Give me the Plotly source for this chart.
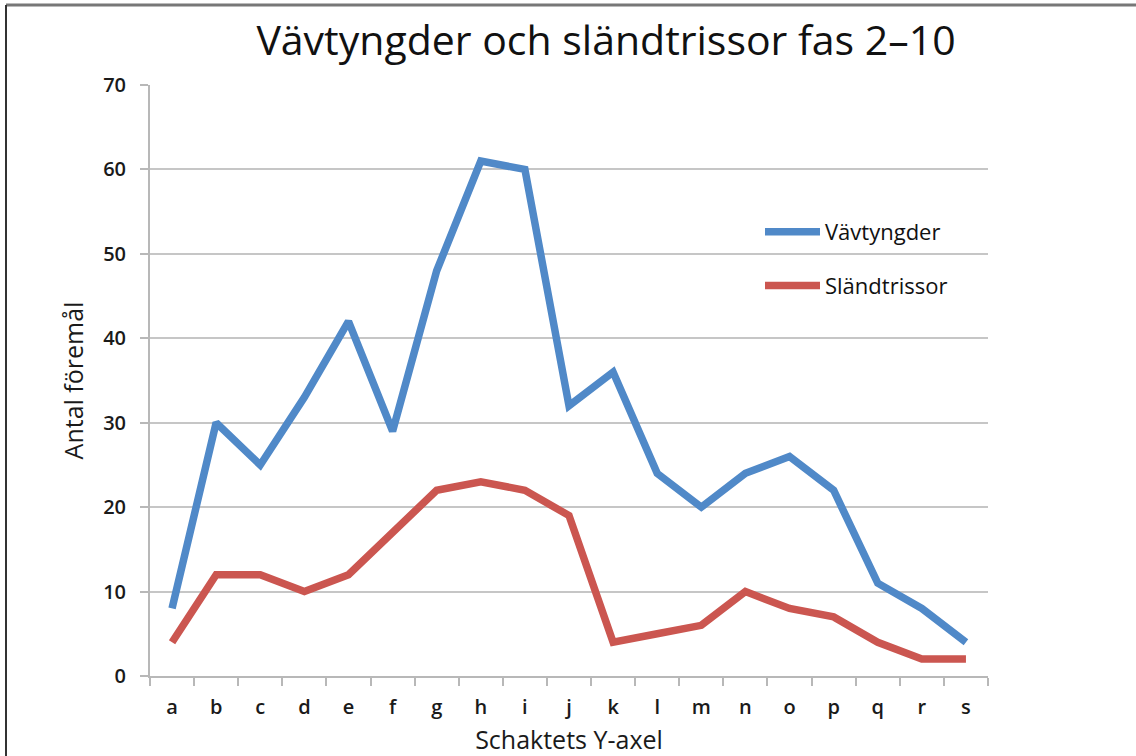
import plotly.graph_objects as go

categories = ["a", "b", "c", "d", "e", "f", "g", "h", "i", "j", "k", "l", "m", "n", "o", "p", "q", "r", "s"]
vavtyngder = [8, 30, 25, 33, 42, 29, 48, 61, 60, 32, 36, 24, 20, 24, 26, 22, 11, 8, 4]
slandtrissor = [4, 12, 12, 10, 12, 17, 22, 23, 22, 19, 4, 5, 6, 10, 8, 7, 4, 2, 2]
y_ticks = [0, 10, 20, 30, 40, 50, 60, 70]

title_text = "Vävtyngder och sländtrissor fas 2–10"
x_title = "Schaktets Y-axel"
y_title = "Antal föremål"

FONT = "Open Sans"
BLUE = "#5089C8"
RED = "#CB5650"
TXT = "#1a1a1a"

fig = go.Figure()
fig.add_trace(go.Scatter(x=categories, y=vavtyngder, mode="lines", name="Vävtyngder",
                         legendgroup="v", line=dict(color=BLUE, width=7.5)))
fig.add_trace(go.Scatter(x=categories, y=slandtrissor, mode="lines", name="Sländtrissor",
                         legendgroup="s", line=dict(color=RED, width=7.5)))

L, R, T, B = 150, 148, 85, 80
PW, PH = 1136 - L - R, 756 - T - B

fig.update_layout(
    width=1136, height=756,
    margin=dict(l=L, r=R, t=T, b=B, autoexpand=False),
    paper_bgcolor="white", plot_bgcolor="white",
    font=dict(family=FONT, color=TXT),
    title=dict(text=title_text, x=(606) / 1136, xanchor="center", y=1 - 41 / 756, yanchor="middle",
               font=dict(family=FONT, size=41, color="#111111")),
    showlegend=True,
    legend=dict(x=(760 - L) / PW, y=(T + PH - 259) / PH, xanchor="left", yanchor="middle",
                font=dict(family=FONT, size=22, color="#111111"),
                bgcolor="rgba(0,0,0,0)", tracegroupgap=22, itemwidth=55),
    xaxis=dict(
        type="category", range=[-0.5, len(categories) - 0.5], automargin=False,
        showgrid=False, showline=True, linecolor="#b8b8b8", linewidth=2,
        ticks="outside", ticklen=8, tickwidth=2, tickcolor="#b8b8b8",
        tickson="boundaries", ticklabelstandoff=12,
        tickfont=dict(family=FONT, size=20, color=TXT, weight=600),
        title=dict(text=x_title, font=dict(family=FONT, size=25, color=TXT), standoff=14),
        fixedrange=True,
    ),
    yaxis=dict(
        range=[0, 70], tickvals=y_ticks, automargin=False,
        showgrid=True, gridcolor="#c6c6c6", gridwidth=2,
        showline=True, linecolor="#b8b8b8", linewidth=2,
        ticks="outside", ticklen=8, tickwidth=2, tickcolor="#b8b8b8",
        ticklabelstandoff=10,
        tickfont=dict(family=FONT, size=20, color=TXT, weight=600),
        title=dict(text=y_title, font=dict(family=FONT, size=25, color=TXT), standoff=12),
        zeroline=False, fixedrange=True,
    ),
)

# frame lines of the picture (top and left edges)
top_y = 1 + (T - 5) / PH
left_x = -(L - 6) / PW
fig.add_shape(type="line", xref="paper", yref="paper", x0=left_x, x1=1 + R / PW, y0=top_y, y1=top_y,
              line=dict(color="#777777", width=3))
fig.add_shape(type="line", xref="paper", yref="paper", x0=left_x, x1=left_x, y0=-B / PH, y1=top_y,
              line=dict(color="#333333", width=2))

fig.write_html("out.html", config={"displayModeBar": False},
               post_script="document.body.style.margin='0';")
